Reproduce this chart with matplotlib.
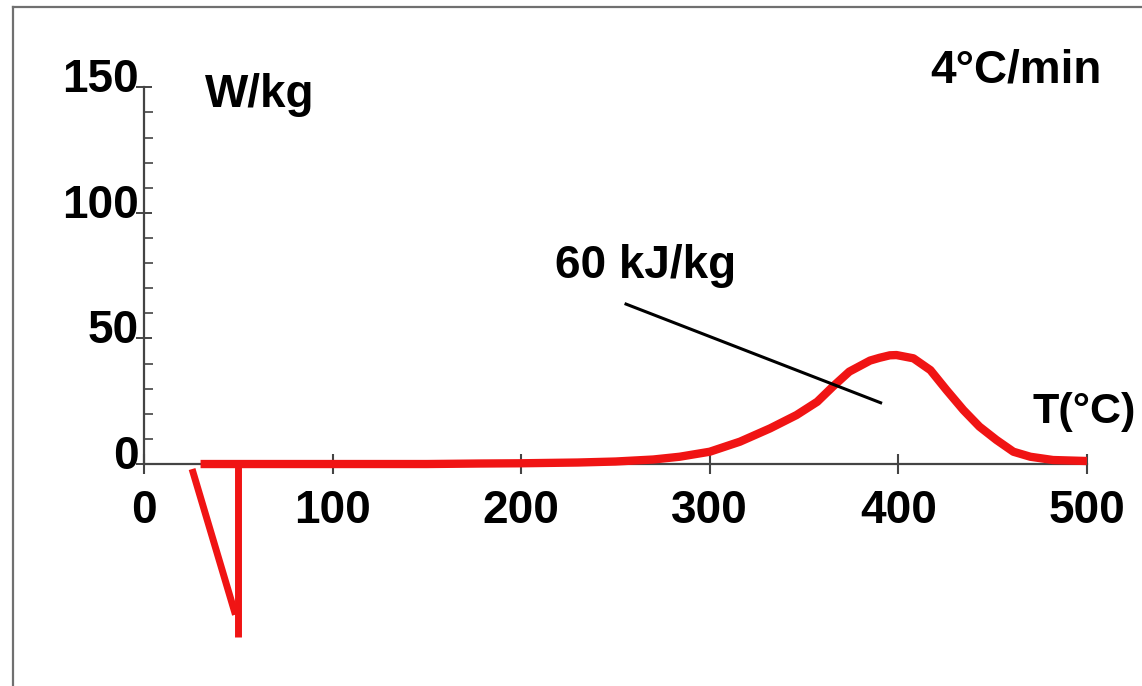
import matplotlib
matplotlib.use("Agg")
import matplotlib.pyplot as plt
from matplotlib.lines import Line2D
from matplotlib.transforms import ScaledTranslation

plt.rcParams['font.family'] = ['Liberation Sans', 'DejaVu Sans']

# DSC trace at 4 °C/min: temperature (°C) vs heat flow (W/kg)
temp_main = [30, 100, 150, 178, 200, 230, 250, 270, 284, 300, 316, 332, 346,
             357, 365.5, 374, 385, 390, 395.5, 399, 408, 417, 425.5, 434.5,
             443, 452, 461, 470, 482, 500]
flow_main = [0, 0, 0, 0.2, 0.3, 0.6, 1.0, 1.8, 2.9, 4.9, 8.9, 14.2, 19.5,
             24.8, 31.0, 36.8, 41.2, 42.3, 43.3, 43.4, 42.1, 37.4, 29.5, 21.5,
             14.9, 9.6, 4.9, 2.9, 1.6, 1.2]

# endothermic dip near the start of the run
temp_dip = [25.5, 48.5]
flow_dip = [-2, -60]
temp_drop = [50, 50]
flow_drop = [0, -69]

# annotation leader for the peak enthalpy
leader_x = [255.6, 390.6]
leader_y = [63.7, 24.4]

x_ticks = [0, 100, 200, 300, 400, 500]
y_ticks = [0, 50, 100, 150]
y_minor = [10, 20, 30, 40, 60, 70, 80, 90, 110, 120, 130, 140]

fig = plt.figure(figsize=(11.42, 6.86), dpi=100)
ax = fig.add_axes([0, 0, 1, 1])
ax.set_xlim(-76.35, 529.2)
ax.set_ylim(-88.4, 184.8)

red = '#f01414'
ax.plot(temp_main, flow_main, color=red, lw=6.0, solid_capstyle='butt',
        solid_joinstyle='round', zorder=3)
ax.plot(temp_dip, flow_dip, color=red, lw=5.0, solid_capstyle='butt', zorder=3)
ax.plot(temp_drop, flow_drop, color=red, lw=5.0, solid_capstyle='butt', zorder=3)
ax.plot(leader_x, leader_y, color='black', lw=2.2, zorder=4)

axis_col = '#444444'
for s in ['top', 'right']:
    ax.spines[s].set_visible(False)
ax.spines['left'].set_position(('data', 0))
ax.spines['bottom'].set_position(('data', 0))
ax.spines['left'].set_bounds(0, 150)
ax.spines['bottom'].set_bounds(0, 500)
for s in ['left', 'bottom']:
    ax.spines[s].set_color(axis_col)
    ax.spines[s].set_linewidth(1.6)
    ax.spines[s].set_zorder(2)

ax.set_xticks(x_ticks)
ax.set_yticks(y_ticks)
ax.set_yticks(y_minor, minor=True)
ax.set_xticklabels([str(v) for v in x_ticks])
ax.set_yticklabels([str(v) for v in y_ticks])
ax.tick_params(axis='x', which='major', direction='inout', length=14, width=1.5,
               color=axis_col, pad=11, labelsize=33)
ax.tick_params(axis='y', which='major', direction='inout', length=12, width=1.4,
               color=axis_col, pad=-2, labelsize=33)
ax.tick_params(axis='y', which='minor', direction='in', length=6.5, width=1.2,
               color=axis_col)
for lab in ax.get_xticklabels() + ax.get_yticklabels():
    lab.set_fontweight('bold')
shift = ScaledTranslation(0, 12 / 100, fig.dpi_scale_trans)
for lab in ax.get_yticklabels():
    lab.set_transform(lab.get_transform() + shift)

txt = dict(fontsize=33, fontweight='bold', va='baseline', ha='left', color='black')
ax.text(32.3, 142, 'W/kg', **txt)
ax.text(416.8, 152, '4°C/min', **txt)
ax.text(218, 74, '60 kJ/kg', **txt)
ax.text(471.4, 16.3, 'T(°C)', fontsize=31, fontweight='bold', va='baseline',
        ha='left', color='black')

# page frame (left and top edges)
W, H = 1142, 686
fig.add_artist(Line2D([13 / W, 13 / W], [0, 1 - 7 / H], transform=fig.transFigure,
                      color='#707070', lw=1.6))
fig.add_artist(Line2D([13 / W, 1], [1 - 7 / H, 1 - 7 / H], transform=fig.transFigure,
                      color='#707070', lw=1.6))

fig.savefig('out.png', dpi=100)
